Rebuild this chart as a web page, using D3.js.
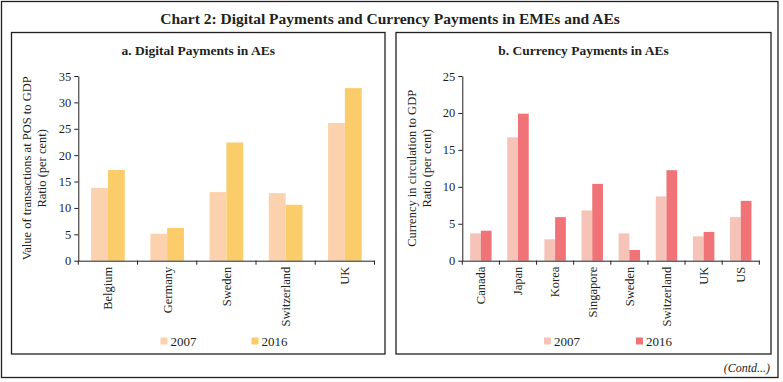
<!DOCTYPE html>
<html>
<head>
<meta charset="utf-8">
<script src="https://cdn.jsdelivr.net/npm/d3@7"></script>
<style>
  html, body { margin: 0; padding: 0; background: #fff; }
  svg { display: block; font-family: "Liberation Serif", "Times New Roman", serif; }
  svg text { font-family: "Liberation Serif", "Times New Roman", serif; }
</style>
</head>
<body>
<svg id="chart" width="783" height="382"></svg>
<script>
// ---- Data ----
const seriesNames = ["2007", "2016"];

const digitalCountries = ["Belgium", "Germany", "Sweden", "Switzerland", "UK"];
const digital2007 = [13.8, 5.1, 13.0, 12.8, 26.1];
const digital2016 = [17.2, 6.2, 22.4, 10.6, 32.7];
const digitalTicks = [0, 5, 10, 15, 20, 25, 30, 35];

const currencyCountries = ["Canada", "Japan", "Korea", "Singapore", "Sweden", "Switzerland", "UK", "US"];
const currency2007 = [3.7, 16.7, 2.9, 6.8, 3.7, 8.7, 3.3, 5.9];
const currency2016 = [4.06, 19.9, 5.9, 10.4, 1.45, 12.25, 3.9, 8.1];
const currencyTicks = [0, 5, 10, 15, 20, 25];

const mainTitle = "Chart 2: Digital Payments and Currency Payments in EMEs and AEs";
const panelTitles = ["a. Digital Payments in AEs", "b. Currency Payments in AEs"];
const yLabels = [
  ["Value of transactions at POS to GDP", "Ratio (per cent)"],
  ["Currency in circulation to GDP", "Ratio (per cent)"]
];
const footnote = "(Contd...)";

// ---- Drawing ----
const svg = d3.select("#chart");
const ink = "#231f20";
const serif = "Liberation Serif, Times New Roman, serif";

// outer frame
svg.append("rect").attr("x", 1.5).attr("y", 1.5).attr("width", 776.5).attr("height", 376)
  .attr("fill", "none").attr("stroke", ink).attr("stroke-width", 1.3);

svg.append("text").attr("x", 390).attr("y", 19).attr("dy", "0.35em")
  .attr("text-anchor", "middle").attr("font-size", 15.5).attr("font-weight", "bold")
  .attr("fill", ink).text(mainTitle);

svg.append("text").attr("x", 770).attr("y", 368).attr("dy", "0.35em")
  .attr("text-anchor", "end").attr("font-size", 12).attr("font-style", "italic")
  .attr("fill", ink).text(footnote);

function drawPanel(cfg) {
  const g = svg.append("g");
  g.append("rect").attr("x", cfg.box[0]).attr("y", cfg.box[1])
    .attr("width", cfg.box[2]).attr("height", cfg.box[3])
    .attr("fill", "none").attr("stroke", ink).attr("stroke-width", 1.3);

  g.append("text").attr("x", cfg.box[0] + cfg.box[2] / 2).attr("y", 50.5).attr("dy", "0.35em")
    .attr("text-anchor", "middle").attr("font-size", 13.5).attr("font-weight", "bold")
    .attr("fill", ink).text(cfg.title);

  const x0 = d3.scaleBand().domain(cfg.categories).range(cfg.xRange).padding(0);
  const x1 = d3.scaleBand().domain(seriesNames).range([0, x0.bandwidth()])
    .paddingInner(0).paddingOuter(cfg.subPad);
  const y = d3.scaleLinear().domain([0, d3.max(cfg.ticks)]).range(cfg.yRange);

  const rows = cfg.categories.map((c, i) => ({ c, vals: [cfg.s1[i], cfg.s2[i]] }));

  g.selectAll("g.grp").data(rows).join("g")
    .attr("transform", d => `translate(${x0(d.c)},0)`)
    .selectAll("rect").data(d => d.vals.map((v, k) => ({ k, v }))).join("rect")
    .attr("x", d => x1(seriesNames[d.k]))
    .attr("width", x1.bandwidth())
    .attr("y", d => y(d.v))
    .attr("height", d => y(0) - y(d.v))
    .attr("fill", d => cfg.colors[d.k]);

  // y axis
  const ya = g.append("g").attr("transform", `translate(${cfg.xRange[0]},0)`)
    .call(d3.axisLeft(y).tickValues(cfg.ticks).tickSize(4).tickSizeOuter(0).tickPadding(3));
  ya.attr("font-family", serif).attr("font-size", 12.5);
  ya.selectAll("path, line").attr("stroke", ink);
  ya.selectAll("text").attr("fill", ink);

  // x axis
  const xa = g.append("g").attr("transform", `translate(0,${y(0)})`)
    .call(d3.axisBottom(x0).tickSize(0).tickSizeOuter(0).tickFormat(""));
  xa.attr("font-family", serif);
  xa.select("path").attr("stroke", ink);
  const bounds = cfg.categories.map(c => x0(c)).concat([x0.range()[1]]);
  xa.selectAll("line.bnd").data(bounds).join("line").attr("class", "bnd")
    .attr("x1", d => d).attr("x2", d => d).attr("y1", 0).attr("y2", 4).attr("stroke", ink);
  xa.selectAll("text.lbl").data(cfg.categories).join("text").attr("class", "lbl")
    .attr("transform", d => `translate(${x0(d) + x0.bandwidth() / 2},6) rotate(-90)`)
    .attr("dy", "0.35em").attr("text-anchor", "end")
    .attr("font-family", serif).attr("font-size", 12.5).attr("fill", ink).text(d => d);

  // y label
  const cy = (cfg.yRange[0] + cfg.yRange[1]) / 2;
  cfg.yLabel.forEach((t, i) => {
    g.append("text")
      .attr("transform", `translate(${cfg.yLabelX[i]},${cy}) rotate(-90)`)
      .attr("dy", "0.35em").attr("text-anchor", "middle")
      .attr("font-size", 12.5).attr("fill", ink).text(t);
  });

  // legend
  seriesNames.forEach((s, k) => {
    const lx = cfg.legendX[k];
    g.append("rect").attr("x", lx).attr("y", 337.5).attr("width", 7).attr("height", 7)
      .attr("fill", cfg.colors[k]);
    g.append("text").attr("x", lx + 10).attr("y", 341).attr("dy", "0.35em")
      .attr("font-size", 13).attr("fill", ink).text(s);
  });
}

drawPanel({
  box: [11.5, 32.5, 373.5, 321.5],
  title: panelTitles[0],
  categories: digitalCountries, s1: digital2007, s2: digital2016, ticks: digitalTicks,
  xRange: [78.3, 374.5], yRange: [260.7, 76], subPad: 0.76,
  colors: ["#fcd2ae", "#fbcd6a"],
  yLabel: yLabels[0], yLabelX: [27, 42],
  legendX: [160.5, 251.5]
});

drawPanel({
  box: [396, 32.5, 375, 321.5],
  title: panelTitles[1],
  categories: currencyCountries, s1: currency2007, s2: currency2016, ticks: currencyTicks,
  xRange: [462.3, 759.3], yRange: [260.7, 76], subPad: 0.73,
  colors: ["#f6c3b8", "#f07378"],
  yLabel: yLabels[1], yLabelX: [412, 427],
  legendX: [544, 636]
});
</script>
</body>
</html>
